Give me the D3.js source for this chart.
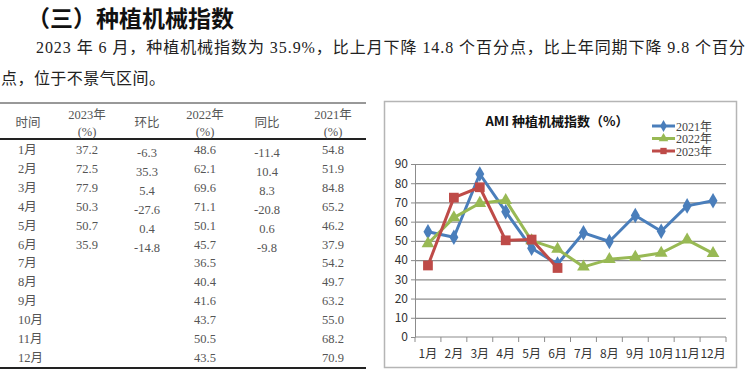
<!DOCTYPE html>
<html>
<head>
<meta charset="utf-8">
<script src="https://cdn.jsdelivr.net/npm/d3@7"></script>
<style>
  body { margin: 0; background: #fff; }
  svg { display: block; }
</style>
</head>
<body>
<div id="chart"></div>
<script>
// data
const months = ["1月","2月","3月","4月","5月","6月","7月","8月","9月","10月","11月","12月"];
const v2021 = [54.8, 51.9, 84.8, 65.2, 46.2, 37.9, 54.2, 49.7, 63.2, 55.0, 68.2, 70.9];
const v2022 = [48.6, 62.1, 69.6, 71.1, 50.1, 45.7, 36.5, 40.4, 41.6, 43.7, 50.5, 43.5];
const v2023 = [37.2, 72.5, 77.9, 50.3, 50.7, 35.9];
const mom = ["-6.3", "35.3", "5.4", "-27.6", "0.4", "-14.8"];   // 环比
const yoy = ["-11.4", "10.4", "8.3", "-20.8", "0.6", "-9.8"];   // 同比
const yTicks = [0, 10, 20, 30, 40, 50, 60, 70, 80, 90];
const seriesNames = ["2021年", "2022年", "2023年"];

const W = 750, H = 378;
const cjk = "'Noto Sans CJK SC', sans-serif";
const serif = "'Liberation Serif', 'Noto Sans CJK SC', serif";

const svg = d3.select("#chart").append("svg")
    .attr("width", W)
    .attr("height", H);
svg.append("rect").attr("width", W).attr("height", H).attr("fill", "#fff");

// heading + paragraph
svg.append("text")
    .attr("x", 27).attr("y", 27)
    .attr("font-family", cjk).attr("font-size", 23).attr("font-weight", "bold")
    .attr("fill", "#111")
    .text("（三）种植机械指数");
svg.append("text")
    .attr("x", 36).attr("y", 53)
    .attr("font-family", serif).attr("font-size", 16)
    .attr("fill", "#222")
    .attr("textLength", 709).attr("lengthAdjust", "spacing")
    .text("2023 年 6 月，种植机械指数为 35.9%，比上月下降 14.8 个百分点，比上年同期下降 9.8 个百分");
svg.append("text")
    .attr("x", 1).attr("y", 84)
    .attr("font-family", serif).attr("font-size", 16)
    .attr("fill", "#222")
    .attr("textLength", 164).attr("lengthAdjust", "spacing")
    .text("点，位于不景气区间。");

// ---- table ----
const tbl = svg.append("g").attr("font-family", serif).attr("font-size", 12.5).attr("fill", "#555");
const colX = [28, 87, 147, 205, 267, 333];
tbl.append("line").attr("x1", 0).attr("x2", 366).attr("y1", 103).attr("y2", 103)
    .attr("stroke", "#333").attr("stroke-width", 1);
tbl.append("line").attr("x1", 0).attr("x2", 366).attr("y1", 139).attr("y2", 139)
    .attr("stroke", "#222").attr("stroke-width", 2);
tbl.append("line").attr("x1", 0).attr("x2", 366).attr("y1", 368).attr("y2", 368)
    .attr("stroke", "#222").attr("stroke-width", 2);

const head1 = [["时间", 127], ["2023年", 119], ["环比", 127], ["2022年", 119], ["同比", 127], ["2021年", 119]];
head1.forEach((h, i) => {
  tbl.append("text").attr("x", colX[i]).attr("y", h[1]).attr("text-anchor", "middle")
      .attr("fill", "#555").text(h[0]);
});
[1, 3, 5].forEach(i => {
  tbl.append("text").attr("x", colX[i]).attr("y", 136).attr("text-anchor", "middle")
      .attr("fill", "#555").text("(%)");
});

const rowY = d3.scaleLinear().domain([0, 11]).range([154, 362]);
const rows = tbl.selectAll("g.row").data(months).enter().append("g").attr("class", "row");
rows.append("text").attr("x", 18).attr("y", (d, i) => rowY(i)).text(d => d);
rows.append("text").attr("x", colX[1]).attr("y", (d, i) => rowY(i)).attr("text-anchor", "middle")
    .text((d, i) => v2023[i] !== undefined ? v2023[i].toFixed(1) : "");
rows.append("text").attr("x", colX[2]).attr("y", (d, i) => rowY(i) + 3).attr("text-anchor", "middle")
    .text((d, i) => mom[i] || "");
rows.append("text").attr("x", colX[3]).attr("y", (d, i) => rowY(i)).attr("text-anchor", "middle")
    .text((d, i) => v2022[i].toFixed(1));
rows.append("text").attr("x", colX[4]).attr("y", (d, i) => rowY(i) + 3).attr("text-anchor", "middle")
    .text((d, i) => yoy[i] || "");
rows.append("text").attr("x", colX[5]).attr("y", (d, i) => rowY(i)).attr("text-anchor", "middle")
    .text((d, i) => v2021[i].toFixed(1));

// ---- chart ----
svg.append("rect").attr("x", 384.5).attr("y", 101.5).attr("width", 352).attr("height", 266)
    .attr("fill", "#fff").attr("stroke", "#b5b5b5").attr("stroke-width", 1.5);

const plot = {left: 415, right: 726, top: 164, bottom: 337};
const x = d3.scaleBand().domain(months).range([plot.left, plot.right]);
const y = d3.scaleLinear().domain([0, 90]).range([plot.bottom, plot.top]);

// gridlines
svg.append("g")
    .attr("transform", "translate(" + plot.left + ",0)")
    .call(d3.axisLeft(y).tickValues(yTicks.slice(1)).tickSize(-(plot.right - plot.left)).tickFormat(""))
    .call(g => g.select(".domain").remove())
    .call(g => g.selectAll("line").attr("stroke", "#8c8c8c").attr("stroke-width", 1.2));

// y axis
svg.append("g")
    .attr("transform", "translate(" + plot.left + ",0)")
    .call(d3.axisLeft(y).tickValues(yTicks).tickSize(4).tickSizeOuter(0).tickPadding(3))
    .call(g => g.select(".domain").attr("stroke", "#8c8c8c"))
    .call(g => g.selectAll("line").attr("stroke", "#8c8c8c"))
    .call(g => g.selectAll("text").attr("font-family", cjk).attr("font-size", 12).attr("fill", "#333"));

// x axis with ticks between categories
const xAxis = svg.append("g").attr("transform", "translate(0," + plot.bottom + ")");
xAxis.append("line").attr("x1", plot.left).attr("x2", plot.right).attr("stroke", "#8c8c8c").attr("stroke-width", 1.2);
xAxis.selectAll("line.tk").data(months.concat(["end"])).enter().append("line")
    .attr("class", "tk")
    .attr("x1", (d, i) => i < 12 ? x(d) : plot.right)
    .attr("x2", (d, i) => i < 12 ? x(d) : plot.right)
    .attr("y1", 0).attr("y2", 5).attr("stroke", "#8c8c8c");
xAxis.selectAll("text").data(months).enter().append("text")
    .attr("x", d => x(d) + x.bandwidth() / 2)
    .attr("y", 21)
    .attr("text-anchor", "middle")
    .attr("font-family", cjk).attr("font-size", 12).attr("fill", "#333")
    .text(d => d);

// series
const colors = ["#4a7ebb", "#98b954", "#be4b48"];
const shapes = [d3.symbolDiamond, d3.symbolTriangle, d3.symbolSquare];
const sizes = [70, 70, 95];
const allSeries = [v2021, v2022, v2023];
const line = d3.line().x((d, i) => x(months[i]) + x.bandwidth() / 2).y(d => y(d));

allSeries.forEach((vals, s) => {
  svg.append("path").datum(vals)
      .attr("d", line)
      .attr("fill", "none")
      .attr("stroke", colors[s])
      .attr("stroke-width", 3)
      .attr("stroke-linejoin", "round");
  svg.selectAll(".pt" + s).data(vals).enter().append("path")
      .attr("class", "pt" + s)
      .attr("transform", (d, i) => "translate(" + (x(months[i]) + x.bandwidth() / 2) + "," + y(d) + ")")
      .attr("d", d3.symbol().type(shapes[s]).size(sizes[s]))
      .attr("fill", colors[s]);
});

// title
svg.append("text")
    .attr("x", 557).attr("y", 126)
    .attr("text-anchor", "middle")
    .attr("font-family", cjk).attr("font-size", 13).attr("font-weight", "bold")
    .attr("fill", "#111")
    .text("AMI 种植机械指数（%）");

// legend
const leg = svg.append("g").attr("transform", "translate(652,126)");
seriesNames.forEach((n, s) => {
  const gy = s * 12.5;
  leg.append("line").attr("x1", 0).attr("x2", 23).attr("y1", gy).attr("y2", gy)
      .attr("stroke", colors[s]).attr("stroke-width", 3);
  leg.append("path").attr("transform", "translate(11.5," + gy + ")")
      .attr("d", d3.symbol().type(shapes[s]).size(40)).attr("fill", colors[s]);
  leg.append("text").attr("x", 24).attr("y", gy + 4.5)
      .attr("font-family", serif).attr("font-size", 12).attr("fill", "#444")
      .text(n);
});
</script>
</body>
</html>
